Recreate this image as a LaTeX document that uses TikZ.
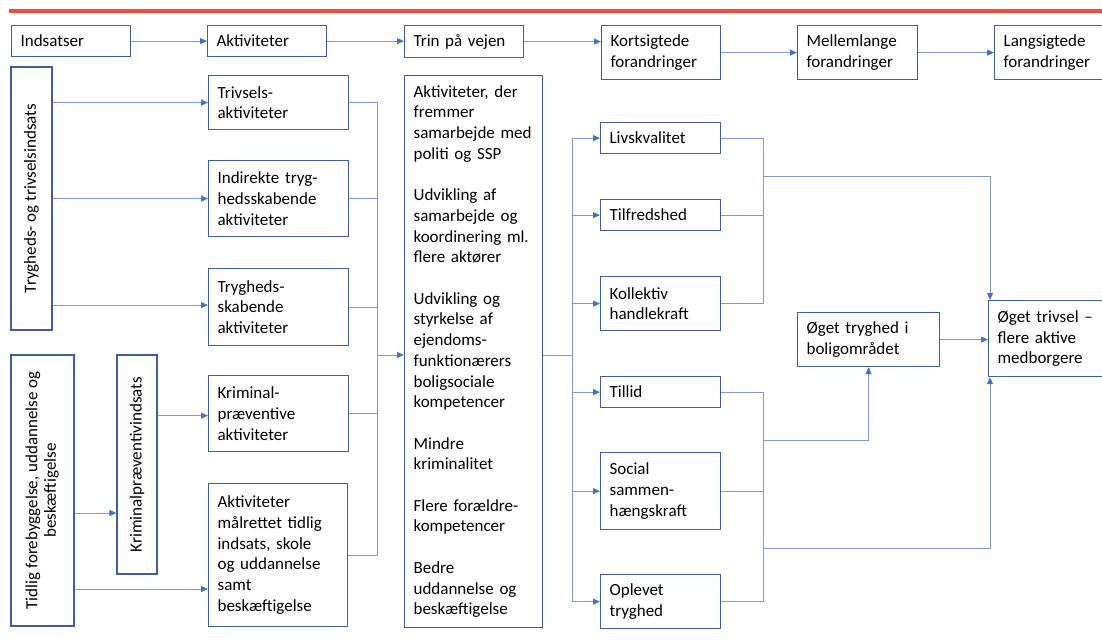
\documentclass[tikz,border=0pt]{standalone}
\usepackage{fontspec}
\setmainfont{Carlito}
\usetikzlibrary{arrows.meta,calc}
\definecolor{boxc}{RGB}{62,95,155}
\definecolor{linec}{RGB}{128,153,200}
\definecolor{arrc}{RGB}{68,114,196}
\definecolor{redl}{RGB}{238,76,60}
\begin{document}
\begin{tikzpicture}[x=1pt,y=-1pt,
  box/.style={draw=boxc,line width=1.2pt,align=left,inner xsep=9pt,inner ysep=0pt,anchor=north west,font=\fontsize{17pt}{20.7pt}\selectfont},
  rbox/.style={draw=boxc,line width=1.2pt,inner sep=0pt,anchor=center,font=\fontsize{17pt}{20.7pt}\selectfont},
  conn/.style={draw=linec,line width=1pt},
  arr/.style={conn,-{Triangle[length=7pt,width=6pt,color=arrc]}}]
\useasboundingbox (0,0) rectangle (1102,641);
\clip (0,0) rectangle (1102,641);
\fill[redl] (9,9.3) rectangle (1102,12.7);
% top row
\node[box,text width=101pt,minimum height=31pt] (ind) at (11,25) {Indsatser};
\node[box,text width=101pt,minimum height=31pt] (akt) at (207,25) {Aktiviteter};
\node[box,text width=101pt,minimum height=32pt] (trin) at (404,25) {Trin på vejen};
\node[box,text width=101pt,minimum height=54pt] (kort) at (601,25) {Kortsigtede\\forandringer};
\node[box,text width=102pt,minimum height=54pt] (mell) at (797,25) {Mellemlange\\forandringer};
\node[box,text width=102pt,minimum height=54pt] (lang) at (994,25) {Langsigtede\\forandringer};
% left boxes with vertical text
\node[rbox,minimum height=263pt,minimum width=41pt] (tt) at (31.5,198.5) {\rotatebox{90}{Trygheds- og trivselsindsats}};
\node[rbox,minimum height=271pt,minimum width=63pt] (tidlig) at (42.5,490.5) {\rotatebox{90}{\begin{tabular}{@{}c@{}}Tidlig forebyggelse, uddannelse og\\[-2pt]beskæftigelse\end{tabular}}};
\node[rbox,minimum height=219pt,minimum width=40pt] (krimi) at (137,464.5) {\rotatebox{90}{Kriminalpræventivindsats}};
% activities
\node[box,text width=122pt,minimum height=54pt] (triv) at (208,75) {Trivsels-\\aktiviteter};
\node[box,text width=122pt,minimum height=76pt] (indir) at (208,160) {Indirekte tryg-\\hedsskabende\\aktiviteter};
\node[box,text width=122pt,minimum height=77pt] (trygs) at (208,268) {Trygheds-\\skabende\\aktiviteter};
\node[box,text width=122pt,minimum height=76pt] (krimp) at (208,375) {Kriminal-\\præventive\\aktiviteter};
\node[box,text width=121pt,minimum height=143pt] (maal) at (208,483) {Aktiviteter\\målrettet tidlig\\indsats, skole\\og uddannelse\\samt\\beskæftigelse};
% big box
\node[box,text width=120pt,minimum height=552pt] (big) at (404,75) {Aktiviteter, der\\fremmer\\samarbejde med\\politi og SSP\\[20.7pt]Udvikling af\\samarbejde og\\koordinering ml.\\flere aktører\\[20.7pt]Udvikling og\\styrkelse af\\ejendoms-\\funktionærers\\boligsociale\\kompetencer\\[20.7pt]Mindre\\kriminalitet\\[20.7pt]Flere forældre-\\kompetencer\\[20.7pt]Bedre\\uddannelse og\\beskæftigelse};
% short-term
\node[box,text width=102pt,minimum height=31pt] (livs) at (600,122) {Livskvalitet};
\node[box,text width=102pt,minimum height=31pt] (tilf) at (600,199) {Tilfredshed};
\node[box,text width=102pt,minimum height=54pt] (koll) at (600,276) {Kollektiv\\handlekraft};
\node[box,text width=102pt,minimum height=31pt] (till) at (600,376) {Tillid};
\node[box,text width=102pt,minimum height=77pt] (soc) at (600,452) {Social\\sammen-\\hængskraft};
\node[box,text width=102pt,minimum height=54pt] (opl) at (600,574) {Oplevet\\tryghed};
% outcomes
\node[box,text width=124pt,minimum height=54pt] (ogtr) at (797,312) {Øget tryghed i\\boligområdet};
\node[box,text width=104pt,minimum height=76pt] (ogtv) at (988,300) {Øget trivsel –\\flere aktive\\medborgere};
% top row arrows
\draw[arr] (ind) -- (akt);
\draw[arr] (akt.east) -- (akt.east -| trin.west);
\draw[arr] (trin.east) -- (trin.east -| kort.west);
\draw[arr] (kort) -- (mell);
\draw[arr] (mell) -- (lang);
% inputs to activities
\draw[arr] (tt.east |- triv.west) -- (triv.west);
\draw[arr] (tt.east |- indir.west) -- (indir.west);
\draw[arr] ([yshift=2pt]tt.east |- trygs.west) -- ([yshift=2pt]trygs.west);
\draw[arr] ([yshift=-2pt]krimi.east |- krimp.west) -- ([yshift=-2pt]krimp.west);
\coordinate (t1) at ([yshift=-22.5pt]tidlig.east);
\coordinate (t2) at ([yshift=-98.5pt]tidlig.east);
\draw[arr] (t1) -- (t1 -| krimi.west);
\draw[arr] (t2) -- (t2 -| maal.west);
% activities bus
\coordinate (b1) at (377,355);
\draw[conn] (triv.east) -| (b1);
\draw[conn] (indir.east) -| (b1);
\draw[conn] (trygs.east) -| (b1);
\draw[conn] (krimp.east) -| (b1);
\draw[conn] (maal.east) -| (b1);
\draw[arr] (b1) -- (b1 -| big.west);
% big to short-term
\coordinate (b2) at (572,355);
\draw[conn] (b2 -| big.east) -- (b2);
\draw[arr] (b2) |- (livs.west);
\draw[arr] (b2) |- (tilf.west);
\draw[arr] (b2) |- (koll.west);
\draw[arr] (b2) |- (till.west);
\draw[arr] (b2) |- (soc.west);
\draw[arr] (b2) |- (opl.west);
% merges
\coordinate (m1) at (763,176);
\coordinate (m2) at (763,440);
\coordinate (m3) at (763,548);
\draw[conn] (livs.east) -| (m1);
\draw[conn] (tilf.east) -| (m1);
\draw[conn] (koll.east) -| (m1);
\draw[arr] (m1) -| ([xshift=2pt]ogtv.north west);
\draw[conn] (till.east) -| (m3);
\draw[conn] (opl.east) -| (m2);
\draw[conn] (soc.east) -- (soc.east -| m2);
\draw[arr] (m2) -| (ogtr.south);
\draw[arr] (m3) -| ([xshift=2pt]ogtv.south west);
\draw[arr] (ogtr.east) -- (ogtr.east -| ogtv.west);
\end{tikzpicture}
\end{document}
